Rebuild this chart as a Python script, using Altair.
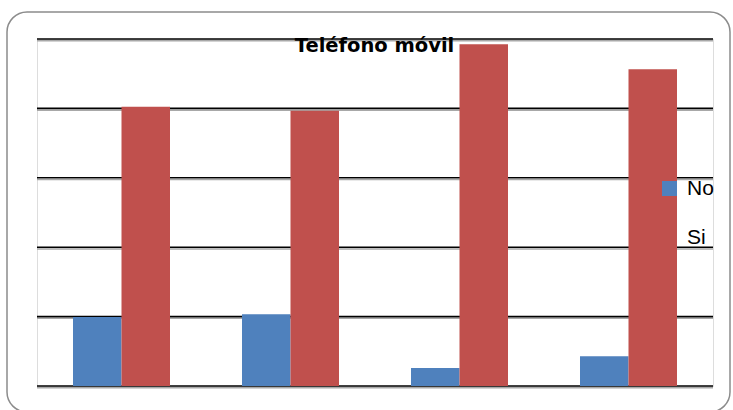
import altair as alt
import pandas as pd

TITLE = "Teléfono móvil"
categories = ["Grupo 1", "Grupo 2", "Grupo 3", "Grupo 4"]
series = ["No", "Si"]
no_values = [19.9, 20.7, 5.2, 8.6]
si_values = [80.5, 79.3, 98.5, 91.3]
grid_values = [0, 20, 40, 60, 80, 100]
colors = ["#4F81BD", "#C0504D"]

rows = []
for c, n, s in zip(categories, no_values, si_values):
    rows.append({"cat": c, "serie": "No", "valor": n})
    rows.append({"cat": c, "serie": "Si", "valor": s})
df = pd.DataFrame(rows)

W, H = 676, 347
yscale = alt.Scale(domain=[0, 100], nice=False)
grid_df = pd.DataFrame({"g": grid_values})

shadow = alt.Chart(grid_df).mark_rule(
    color="#a8a8a8", strokeWidth=1.4, yOffset=1.8
).encode(y=alt.Y("g:Q", scale=yscale, axis=None), x=alt.value(0), x2=alt.value(W))

grid = alt.Chart(grid_df).mark_rule(
    color="#000000", strokeWidth=1.6
).encode(y=alt.Y("g:Q", scale=yscale, axis=None), x=alt.value(0), x2=alt.value(W))

bars = alt.Chart(df).mark_bar(stroke=None).encode(
    x=alt.X("cat:N", sort=categories, axis=None,
            scale=alt.Scale(paddingInner=0.426, paddingOuter=0.213)),
    xOffset=alt.XOffset("serie:N", sort=series),
    y=alt.Y("valor:Q", axis=None, scale=yscale),
    color=alt.Color("serie:N", sort=series,
                    scale=alt.Scale(domain=series, range=colors),
                    legend=alt.Legend(title=None, orient="none", legendX=622, legendY=139,
                                      symbolType="square", symbolSize=225, symbolStrokeWidth=0,
                                      symbolOpacity=1,
                                      labelFont="Liberation Sans", labelFontSize=21, labelColor="#000000",
                                      labelOffset=7, rowPadding=27, padding=0)),
)

title_layer = alt.Chart(pd.DataFrame({"t": [TITLE]})).mark_text(
    font="DejaVu Sans", fontSize=19.5, fontWeight="bold", color="#000000",
    align="center", baseline="top"
).encode(x=alt.value(337.5), y=alt.value(-2), text="t:N")

border = alt.Chart(pd.DataFrame({"b": [1]})).mark_rect(
    fill=None, fillOpacity=0, stroke="#8c8c8c", strokeWidth=1.5, cornerRadius=20
).encode(x=alt.value(-30), x2=alt.value(693), y=alt.value(-27), y2=alt.value(373))

chart = alt.layer(border, shadow, grid, bars, title_layer).properties(
    width=W, height=H,
    autosize=alt.AutoSizeParams(type="none"),
    padding={"left": 37, "top": 39, "right": 20, "bottom": 24},
).configure_view(stroke=None).configure(background="#ffffff")

chart.save("out.html", embed_options={"renderer": "svg", "actions": False})
